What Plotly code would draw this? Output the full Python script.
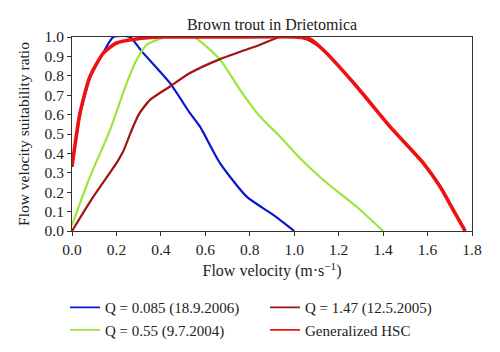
import plotly.graph_objects as go

# Q = 0.085 (18.9.2006)
blue_x = [0.0, 0.036, 0.081, 0.141, 0.186, 0.26, 0.314, 0.441, 0.531, 0.576, 0.666, 0.786, 0.906, 1.0]
blue_y = [0.33, 0.60, 0.79, 0.92, 1.0, 1.0, 0.926, 0.762, 0.607, 0.538, 0.35, 0.177, 0.083, 0.0]

# Q = 0.55 (9.7.2004)
green_x = [0.0, 0.081, 0.171, 0.246, 0.291, 0.336, 0.41, 0.546, 0.666, 0.756, 0.846, 0.936, 1.026, 1.131, 1.281, 1.40]
green_y = [0.03, 0.28, 0.52, 0.762, 0.883, 0.96, 0.995, 1.0, 0.883, 0.728, 0.59, 0.487, 0.375, 0.263, 0.125, 0.0]

# Q = 1.47 (12.5.2005)
brown_x = [0.0, 0.096, 0.2, 0.23, 0.265, 0.30, 0.351, 0.441, 0.531, 0.666, 0.846, 0.936, 1.0, 1.05, 1.10, 1.13, 1.281, 1.431, 1.581, 1.656, 1.716, 1.769]
brown_y = [0.0, 0.177, 0.35, 0.41, 0.51, 0.60, 0.676, 0.745, 0.814, 0.886, 0.96, 1.0, 1.0, 0.99, 0.96, 0.934, 0.745, 0.538, 0.35, 0.229, 0.108, 0.0]

# Generalized HSC
red_x = [0.0, 0.036, 0.081, 0.141, 0.2, 0.29, 0.4, 0.7, 1.0, 1.07, 1.13, 1.281, 1.431, 1.581, 1.656, 1.716, 1.769]
red_y = [0.332, 0.607, 0.797, 0.917, 0.969, 0.99, 1.0, 1.0, 1.0, 0.99, 0.934, 0.745, 0.538, 0.35, 0.229, 0.108, 0.0]

x_ticks = [0.0, 0.2, 0.4, 0.6, 0.8, 1.0, 1.2, 1.4, 1.6, 1.8]
y_ticks = [0.0, 0.1, 0.2, 0.3, 0.4, 0.5, 0.6, 0.7, 0.8, 0.9, 1.0]

FONT = "Liberation Serif, Times New Roman, serif"
FS = 15.5

fig = go.Figure()
series = [
    ("Q = 0.085 (18.9.2006)", blue_x, blue_y, "#0a14d2", 2.2, 1),
    ("Q = 0.55 (9.7.2004)", green_x, green_y, "#9be638", 2.2, 3),
    ("Q = 1.47 (12.5.2005)", brown_x, brown_y, "#a01414", 2.2, 2),
    ("Generalized HSC", red_x, red_y, "#f01010", 3.6, 4),
]
for name, xs, ys, col, w, rank in series:
    fig.add_trace(go.Scatter(
        x=xs, y=ys, mode="lines", name=name,
        line=dict(color=col, width=w, shape="spline", smoothing=0.6),
        showlegend=False, hoverinfo="skip",
    ))
for name, xs, ys, col, w, rank in series:
    fig.add_trace(go.Scatter(
        x=[None], y=[None], mode="lines", name=name,
        line=dict(color=col, width=1.6),
        legendrank=rank, showlegend=True,
    ))

axis_common = dict(
    showline=True, linecolor="#333333", linewidth=1, mirror=True,
    ticks="outside", ticklen=4, tickcolor="#333333",
    showgrid=False, zeroline=False, automargin=False,
    tickfont=dict(family=FONT, size=FS, color="#222222"),
    tickformat=".1f",
)

fig.update_layout(
    width=500, height=352,
    margin=dict(l=72, r=28, t=37, b=121, autoexpand=False),
    paper_bgcolor="white", plot_bgcolor="white",
    font=dict(family=FONT, size=FS, color="#222222"),
    title=dict(text="Brown trout in Drietomica", x=0.544, xanchor="center",
               y=1 - 24 / 352, yanchor="middle", font=dict(family=FONT, size=16)),
    xaxis=dict(range=[0, 1.8], tickvals=x_ticks,
               title=dict(text="Flow velocity (m·s<sup>−1</sup>)", font=dict(family=FONT, size=16), standoff=8),
               **axis_common),
    yaxis=dict(range=[0, 1.0], tickvals=y_ticks,
               title=dict(text="Flow velocity suitability ratio", font=dict(family=FONT, size=FS), standoff=11),
               **axis_common),
    legend=dict(orientation="h", x=-0.0175, xanchor="left", y=-0.31, yanchor="top",
                entrywidth=155, entrywidthmode="pixels",
                font=dict(family=FONT, size=15), tracegroupgap=0,
                bgcolor="rgba(0,0,0,0)"),
    showlegend=True,
)

fig.write_html("out.html")
